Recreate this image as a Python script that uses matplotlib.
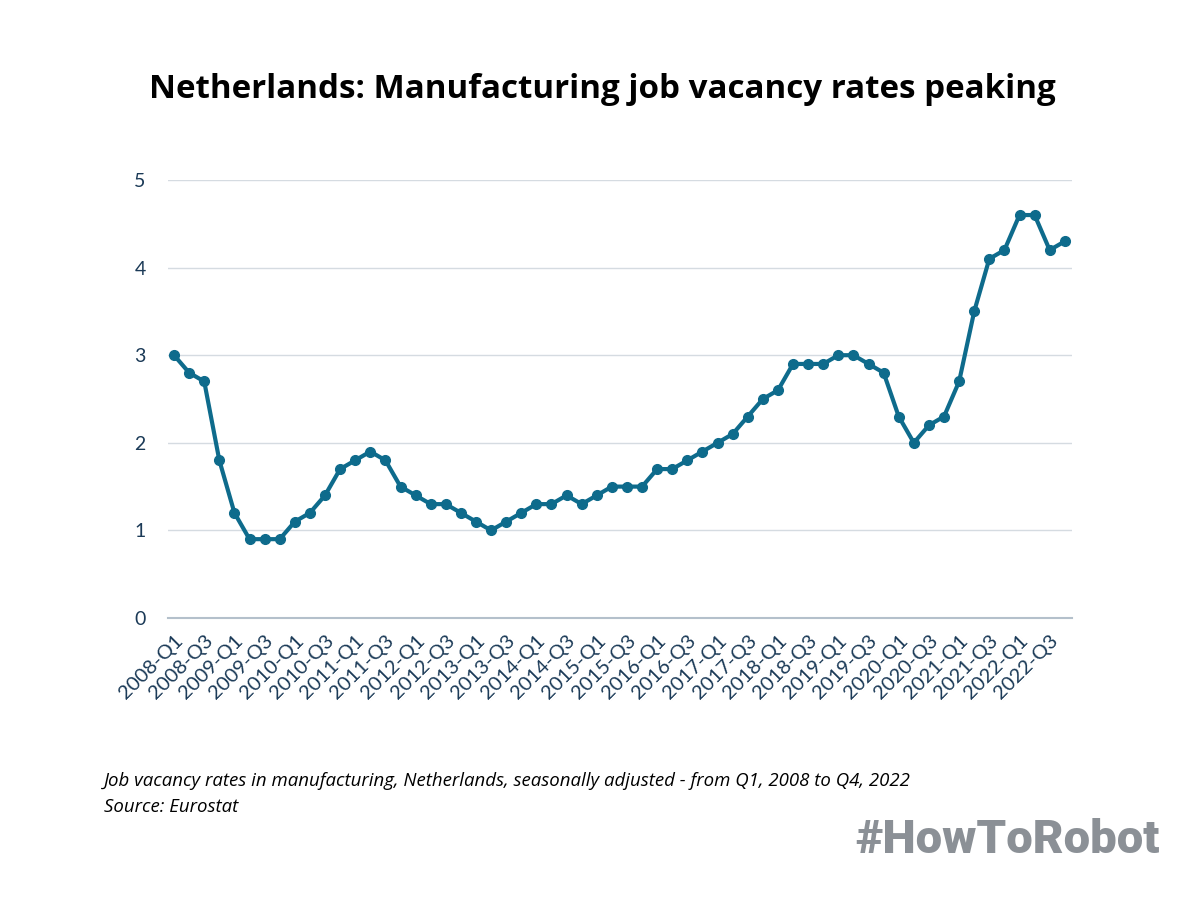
import numpy as np
import matplotlib
matplotlib.use("Agg")
from matplotlib import pyplot as plt

# quarterly job vacancy rates, manufacturing, Netherlands
years = list(range(2008, 2023))
quarters = ["Q1", "Q2", "Q3", "Q4"]
labels = [f"{y}-{q}" for y in years for q in quarters]

rates = [3.0, 2.8, 2.7, 1.8,
         1.2, 0.9, 0.9, 0.9,
         1.1, 1.2, 1.4, 1.7,
         1.8, 1.9, 1.8, 1.5,
         1.4, 1.3, 1.3, 1.2,
         1.1, 1.0, 1.1, 1.2,
         1.3, 1.3, 1.4, 1.3,
         1.4, 1.5, 1.5, 1.5,
         1.7, 1.7, 1.8, 1.9,
         2.0, 2.1, 2.3, 2.5,
         2.6, 2.9, 2.9, 2.9,
         3.0, 3.0, 2.9, 2.8,
         2.3, 2.0, 2.2, 2.3,
         2.7, 3.5, 4.1, 4.2,
         4.6, 4.6, 4.2, 4.3]

y_ticks = [0, 1, 2, 3, 4, 5]

line_col = "#0e6b8c"
text_col = "#1b3a57"

fig = plt.figure(figsize=(12, 9), dpi=100)
ax = fig.add_axes([0.14, 1 - 618 / 900, 0.753, (618 - 180) / 900])

x = np.arange(len(rates))
ax.plot(x, rates, color=line_col, lw=3, marker="o", ms=7, clip_on=False, zorder=3)

ax.set_ylim(0, 5)
ax.set_xlim(-0.4, len(rates) - 1 + 0.45)
ax.set_yticks(y_ticks)
ax.set_yticklabels([str(v) for v in y_ticks], fontsize=14, color=text_col, family="Lato")
ax.grid(axis="y", color="#d5dbe1", lw=1)
ax.set_axisbelow(True)

ax.set_xticks(x[::2])
ax.set_xticklabels(labels[::2], rotation=45, ha="right", rotation_mode="anchor",
                   fontsize=14.5, color=text_col, family="Lato")
ax.tick_params(axis="y", length=0, pad=16)
ax.tick_params(axis="x", length=0, pad=10)

for s in ["top", "right", "left"]:
    ax.spines[s].set_visible(False)
ax.spines["bottom"].set_color("#b4c0cb")
ax.spines["bottom"].set_linewidth(1.5)

fig.text(0.502, 1 - 90 / 900, "Netherlands: Manufacturing job vacancy rates peaking",
         ha="center", va="center", fontsize=23.9, fontweight="bold", family="Open Sans", color="black")

fig.text(104 / 1200, 1 - 781 / 900,
         "Job vacancy rates in manufacturing, Netherlands, seasonally adjusted - from Q1, 2008 to Q4, 2022",
         ha="left", va="center", fontsize=13.4, style="italic", family="Open Sans", color="black")
fig.text(104 / 1200, 1 - 807 / 900, "Source: Eurostat",
         ha="left", va="center", fontsize=13.4, style="italic", family="Open Sans", color="black")

fig.text(1160 / 1200, 1 - 840 / 900, "#HowToRobot", ha="right", va="center",
         fontsize=34, fontweight="black", family="Roboto", color="#8b9096")

fig.savefig("out.png", dpi=100)
